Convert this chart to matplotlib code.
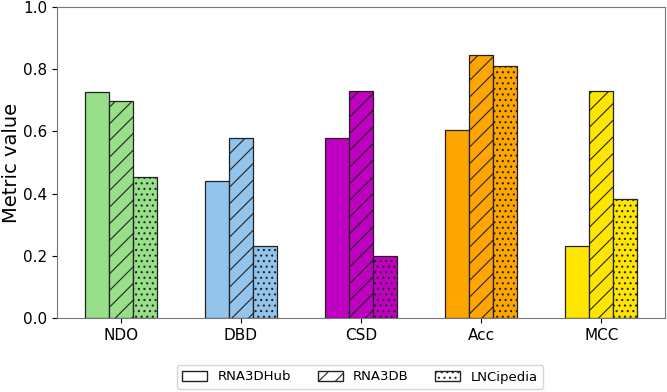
import matplotlib
matplotlib.use("Agg")
import matplotlib.pyplot as plt
import numpy as np
from matplotlib.patches import Patch

categories = ["NDO", "DBD", "CSD", "Acc", "MCC"]
series = ["RNA3DHub", "RNA3DB", "LNCipedia"]
rna3dhub = [0.727, 0.440, 0.579, 0.605, 0.232]
rna3db = [0.698, 0.579, 0.730, 0.846, 0.731]
lncipedia = [0.453, 0.232, 0.200, 0.810, 0.384]
colors = ["#98df8a", "#92c4ec", "#c000c0", "#ffa500", "#ffe600"]
hatches = ["", "//", "..."]

plt.rcParams["hatch.linewidth"] = 0.8
fig = plt.figure(figsize=(6.67, 3.92), dpi=100)
ax = fig.add_axes([57 / 667, 1 - 318 / 392, 608 / 667, 311 / 392])

x = np.arange(len(categories))
w = 0.2
for i, vals in enumerate([rna3dhub, rna3db, lncipedia]):
    ax.bar(x + (i - 1) * w, vals, w, color=colors, edgecolor="#222222",
           linewidth=0.9, hatch=hatches[i])

ax.set_ylim(0, 1.0)
ax.set_xticks(x)
ax.set_xticklabels(categories, fontsize=11)
ax.tick_params(axis="y", labelsize=11)
ax.set_ylabel("Metric value", fontsize=14)
ax.yaxis.set_label_coords(-0.06, 0.5)
for s in ax.spines.values():
    s.set_color("#777777")

handles = [Patch(facecolor="white", edgecolor="#222222", hatch=h, label=l)
           for h, l in zip(hatches, series)]
fig.legend(handles=handles, loc="center", ncol=3, bbox_to_anchor=(360 / 667, 1 - 377 / 392),
           fontsize=9.5, frameon=True, handlelength=1.9, columnspacing=2.0)

fig.savefig("out.png", dpi=100)
